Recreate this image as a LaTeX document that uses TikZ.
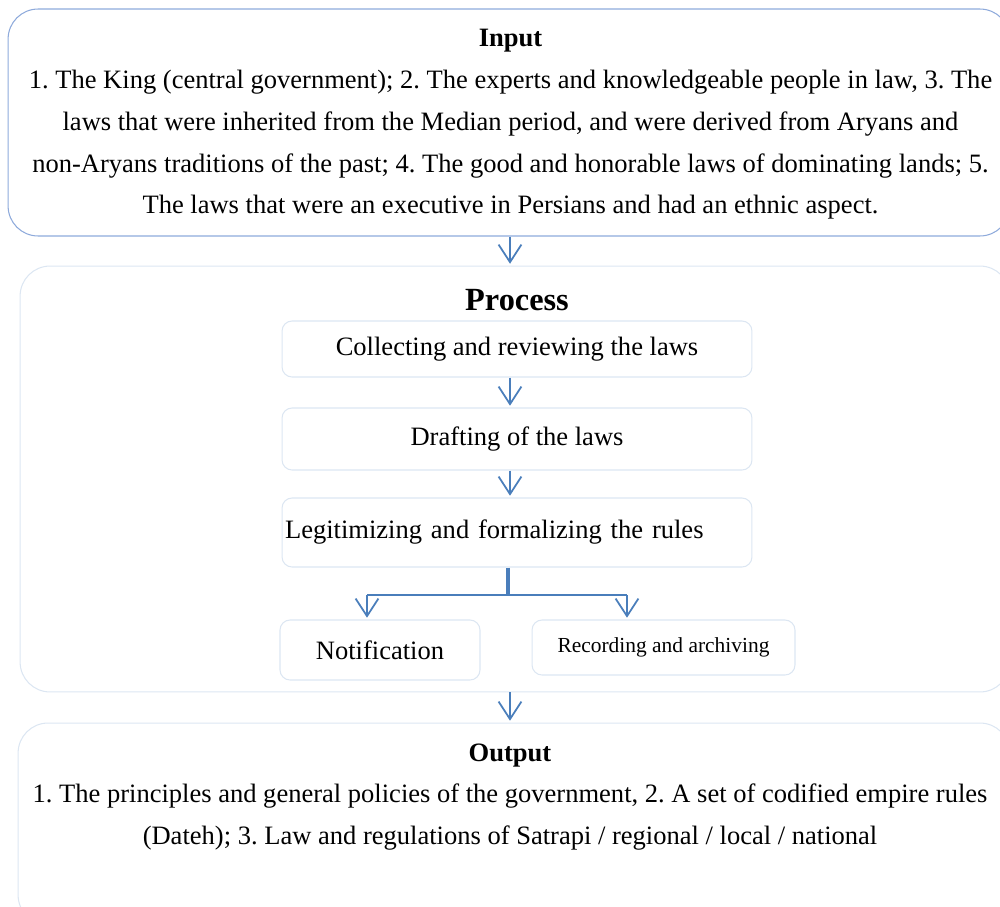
\documentclass[tikz,border=0pt]{standalone}
\usepackage{fontspec}
\setmainfont{Liberation Serif}
\usetikzlibrary{arrows.meta}
\definecolor{arrowblue}{HTML}{4A7EBB}
\definecolor{edgeblue}{HTML}{8EAADB}
\definecolor{paleblue}{HTML}{DCE6F2}
\newcommand{\bodysize}{\fontsize{15.1}{23.8}\selectfont}
\frenchspacing
\tikzset{
  frame/.style={draw=paleblue, line width=0.6pt, rounded corners=0.6cm},
  stepbox/.style={draw=paleblue, line width=0.6pt, rounded corners=0.2cm,
    minimum width=9.4cm, font=\bodysize},
  arr/.style={draw=arrowblue, line width=1pt,
    -{Straight Barb[length=10pt,width=13pt]}, shorten >=1pt},
  branch/.style={draw=arrowblue, line width=1.1pt},
}

\begin{document}
\begin{tikzpicture}[x=0.02cm,y=-0.02cm]
    \clip (0,0) rectangle (1000,906);
    % outer blocks
    \node[frame, draw=edgeblue, minimum width=20.04cm, minimum height=4.54cm] (input) at (509,122.5) {};
    \node[frame, minimum width=19.8cm, minimum height=8.52cm] (process) at (515,479) {};
    \node[frame, minimum width=19.84cm, minimum height=4.04cm] (output) at (514,824) {};
    \node[align=center, font=\bodysize] (intext) at (510.5,124.5)
      {\textbf{Input}\\
       1. The King (central government); 2. The experts and knowledgeable people in law, 3. The\\
       laws that were inherited from the Median period, and were derived from Aryans and\\
       non-Aryans traditions of the past; 4. The good and honorable laws of dominating lands; 5.\\
       The laws that were an executive in Persians and had an ethnic aspect.};
    \node[font=\fontsize{18.4}{22}\selectfont\bfseries] (proctitle) at (517,300) {Process};
    \node[align=center, font=\bodysize] (outtext) at (510,797)
      {\textbf{Output}\\
       1. The principles and general policies of the government, 2. A set of codified empire rules\\
       (Dateh); 3. Law and regulations of Satrapi / regional / local / national};
    % steps
    \node[stepbox, minimum height=1.12cm] (collect) at (517,349) {Collecting and reviewing the laws};
    \node[stepbox, minimum height=1.24cm] (draft) at (517,439) {Drafting of the laws};
    \node[stepbox, minimum height=1.38cm, text width=9.28cm, align=left, inner xsep=0.06cm]
      (legit) at (517,532.5) {Legitimizing and formalizing the rules};
    \node[stepbox, minimum width=4cm, minimum height=1.2cm] (notif) at (380,650) {Notification};
    \node[stepbox, minimum width=5.26cm, minimum height=1.1cm,
      font=\fontsize{12.2}{14}\selectfont] (record) at (663.5,647.5) {Recording and archiving};
    % connectors
    \coordinate (mid) at (510,0);
    \coordinate (split) at (508,595);
    \coordinate (brL) at (367,595);
    \coordinate (brR) at (627,595);
    \draw[arr] (input.south -| mid) -- (process.north -| mid);
    \draw[arr] (collect.south -| mid) -- (draft.north -| mid);
    \draw[arr] (draft.south -| mid) -- (legit.north -| mid);
    \draw[branch, line width=2pt] (legit.south -| split) -- (split);
    \draw[branch] (brL) -- (brR);
    \draw[arr] (brL) -- (notif.north -| brL);
    \draw[arr] (brR) -- (record.north -| brR);
    \draw[arr] (process.south -| mid) -- (output.north -| mid);
\end{tikzpicture}
\end{document}
